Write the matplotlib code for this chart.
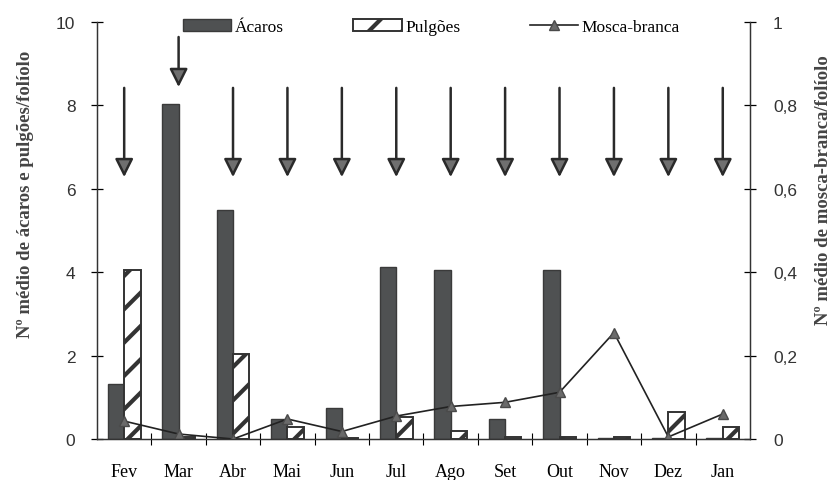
"""Ácaros, pulgões e mosca-branca por mês, com setas de pulverização."""
import matplotlib
matplotlib.use("Agg")
import matplotlib.pyplot as plt  # noqa: E402
import numpy as np  # noqa: E402
from matplotlib.ticker import FuncFormatter  # noqa: E402

meses = ["Fev", "Mar", "Abr", "Mai", "Jun", "Jul", "Ago", "Set", "Out", "Nov", "Dez", "Jan"]
acaros = [1.33, 8.03, 5.5, 0.48, 0.75, 4.12, 4.05, 0.47, 4.05, 0.02, 0.02, 0.02]
pulgoes = [4.05, 0.05, 2.05, 0.29, 0.02, 0.52, 0.2, 0.04, 0.04, 0.05, 0.65, 0.28]
mosca = [0.043, 0.012, 0.0, 0.048, 0.018, 0.055, 0.078, 0.088, 0.112, 0.255, 0.005, 0.06]
# setas: início e ponta (escala da esquerda)
seta_ini = [8.42, 9.64, 8.42, 8.42, 8.42, 8.42, 8.42, 8.42, 8.42, 8.42, 8.42, 8.42]
seta_fim = [6.28, 8.44, 6.28, 6.28, 6.28, 6.28, 6.28, 6.28, 6.28, 6.28, 6.28, 6.28]

SERIF = ["Liberation Serif", "DejaVu Serif"]
SANS = ["Liberation Sans", "DejaVu Sans"]
DARK = "#4f5152"

plt.rcParams["hatch.color"] = "#3a3a3a"
plt.rcParams["hatch.linewidth"] = 3.0

fig = plt.figure(figsize=(8.31, 4.81), dpi=100)
ax = fig.add_axes([0.1167, 0.0852, 0.7858, 0.867])
ax2 = ax.twinx()

x = np.arange(len(meses))
w = 0.3
b1 = ax.bar(x - w / 2, acaros, w, color=DARK, edgecolor="#3a3a3a", lw=1.0, label="Ácaros")
b2 = ax.bar(x + w / 2, pulgoes, w, color="white", edgecolor="#333333", lw=1.4,
            hatch="/", label="Pulgões")

(l1,) = ax2.plot(x, mosca, color="#222222", lw=1.2, marker="^", ms=6.5,
                 mfc="#6a6a6a", mec="#4a4a4a", label="Mosca-branca")

for xi, a, b in zip(x, seta_ini, seta_fim):
    ax.annotate("", xy=(xi, b), xytext=(xi, a),
                arrowprops=dict(arrowstyle="-|>,head_length=1.1,head_width=0.55",
                                fc="#6f6f6f", ec="#2a2a2a", lw=1.8,
                                shrinkA=0, shrinkB=0))

ax.set_xlim(-0.5, len(meses) - 0.5)
ax.set_ylim(0, 10)
ax2.set_ylim(0, 1)
ax.set_yticks(range(0, 11, 2))
ax2.set_yticks(np.arange(0, 1.01, 0.2))
ax2.yaxis.set_major_formatter(FuncFormatter(
    lambda v, _: "0" if v == 0 else ("1" if v == 1 else f"{v:.1f}".replace(".", ","))))

ax.set_xticks(x)
ax.set_xticklabels(meses, fontfamily=SERIF, fontsize=13)
ax.set_xticks(np.arange(0.5, len(meses) - 1, 1), minor=True)
ax.tick_params(axis="x", which="major", length=0, pad=17)
ax.tick_params(axis="x", which="minor", direction="inout", length=8, width=0.8)
ax.tick_params(axis="y", direction="inout", length=9, width=0.9, labelsize=12.5, pad=11)
ax2.tick_params(axis="y", direction="inout", length=9, width=0.9, labelsize=12.5, pad=12)
for t in ax.get_yticklabels() + ax2.get_yticklabels():
    t.set_fontfamily(SANS)
    t.set_color("#333333")

for a in (ax, ax2):
    a.spines["top"].set_visible(False)
    for s in ("left", "right", "bottom"):
        a.spines[s].set_linewidth(0.9)
        a.spines[s].set_color("#333333")

ax.set_ylabel("Nº médio de ácaros e pulgões/folíolo", fontfamily=SERIF, fontsize=13.5,
              fontweight="bold", color="#444444")
ax.yaxis.set_label_coords(-0.097, 0.59)
ax2.set_ylabel("Nº médio de mosca-branca/folíolo", fontfamily=SERIF, fontsize=13.5,
               fontweight="bold", color="#444444")
ax2.yaxis.set_label_coords(1.099, 0.60)

leg = ax2.legend([b1, b2, l1], ["Ácaros", "Pulgões", "Mosca-branca"], ncol=3,
                 loc="upper center", bbox_to_anchor=(0.512, 1.045), frameon=False,
                 prop={"family": SERIF, "size": 12.5}, handlelength=2.8,
                 handletextpad=0.2, columnspacing=4.0, handleheight=0.7)

fig.savefig("out.png", dpi=100)
